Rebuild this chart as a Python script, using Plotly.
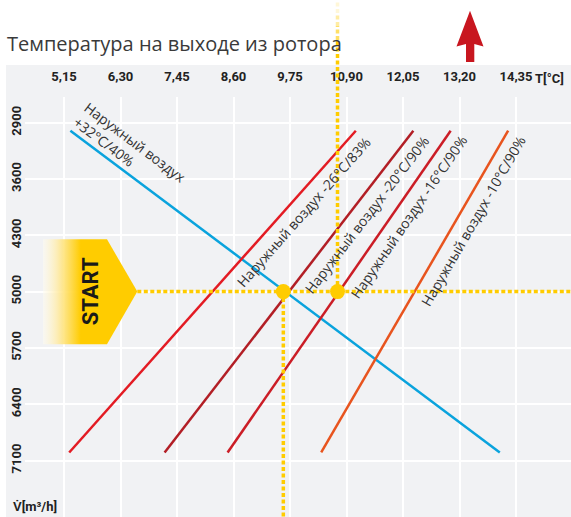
import plotly.graph_objects as go

# ---------------- data ----------------
temp_ticks = [5.15, 6.30, 7.45, 8.60, 9.75, 10.90, 12.05, 13.20, 14.35]
temp_labels = ["5,15", "6,30", "7,45", "8,60", "9,75", "10,90", "12,05", "13,20", "14,35"]
flow_ticks = [2900, 3600, 4300, 5000, 5700, 6400, 7100]
flow_labels = ["2900", "3600", "4300", "5000", "5700", "6400", "7100"]

line_flow = [3000, 7000]                      # V at line ends
t_out_plus32 = [5.28, 14.02]                  # +32°C / 40 %
t_out_minus26 = [11.09, 5.256]                # -26°C / 83 %
t_out_minus20 = [12.26, 7.198]                # -20°C / 90 %
t_out_minus16 = [13.02, 8.48]                 # -16°C / 90 %
t_out_minus10 = [14.19, 10.385]               # -10°C / 90 %

start_flow = 5000
op_points_t = [9.614, 10.717]                 # working points at 5000 m3/h

start_box_t = [4.723, 6.025, 6.642, 6.025, 4.723, 4.723]
start_box_v = [4350, 4350, 5000, 5655, 5655, 4350]

# ---------------- geometry helpers ----------------
W, H = 571, 517
L, T_M = 25, 97
PW, PH = W - L, H - T_M
XR = [4.3562, 15.4695]
YR = [7802.4, 2580.5]


def pxx(px):
    return (px - L) / PW


def pyy(py):
    return (H - py) / PH


GRAY = "#f1f2f4"
YEL = "#FFCC00"
TXT = "#333333"

fig = go.Figure()

# START arrow with gradient
fig.add_trace(go.Scatter(
    x=start_box_t, y=start_box_v, mode="lines", fill="toself",
    line=dict(width=0, color="rgba(0,0,0,0)"),
    fillgradient=dict(type="horizontal",
                      colorscale=[[0, "rgba(255,252,240,0.5)"],
                                  [0.15, "rgba(255,236,170,0.85)"],
                                  [0.4, YEL], [1, YEL]]),
    hoverinfo="skip", showlegend=False))

series = [
    (t_out_plus32, "#0AA3DD"),
    (t_out_minus26, "#E31B23"),
    (t_out_minus20, "#B21E25"),
    (t_out_minus16, "#CB1D26"),
    (t_out_minus10, "#E8541E"),
]
for tt, col in series:
    fig.add_trace(go.Scatter(x=tt, y=line_flow, mode="lines",
                             line=dict(color=col, width=2.5),
                             hoverinfo="skip", showlegend=False))

DASH = "4px,2.5px"
fig.add_trace(go.Scatter(x=[start_box_t[2], XR[1]], y=[start_flow, start_flow],
                         mode="lines", line=dict(color=YEL, width=3.5, dash=DASH),
                         hoverinfo="skip", showlegend=False))
fig.add_trace(go.Scatter(x=[op_points_t[0], op_points_t[0]], y=[start_flow, YR[0]],
                         mode="lines", line=dict(color=YEL, width=3.5, dash=DASH),
                         hoverinfo="skip", showlegend=False))
fig.add_trace(go.Scatter(x=[op_points_t[1], op_points_t[1]], y=[start_flow, YR[1]],
                         mode="lines", line=dict(color=YEL, width=3.5, dash=DASH),
                         hoverinfo="skip", showlegend=False))
fig.add_trace(go.Scatter(x=op_points_t, y=[start_flow] * len(op_points_t), mode="markers",
                         marker=dict(color=YEL, size=15, line=dict(width=0)),
                         hoverinfo="skip", showlegend=False))

shapes = []
shapes.append(dict(type="rect", xref="paper", yref="paper",
                   x0=pxx(6), x1=1, y0=0, y1=pyy(65),
                   fillcolor=GRAY, line=dict(width=0), layer="below"))
for (a, b, op) in [(97, 40, 1.0), (40, 26, 0.6), (26, 13, 0.35), (13, 0, 0.15)]:
    shapes.append(dict(type="line", xref="x", yref="paper",
                       x0=op_points_t[1], x1=op_points_t[1], y0=pyy(a), y1=pyy(b),
                       line=dict(color=YEL, width=3.5, dash=DASH), opacity=op, layer="above"))
arrow = [(470, 10.7), (483.5, 46.5), (474.3, 44), (474.3, 62), (466, 62), (466, 44), (456.5, 46.5)]
path = "M " + " L ".join(f"{pxx(x):.5f},{pyy(y):.5f}" for x, y in arrow) + " Z"
shapes.append(dict(type="path", xref="paper", yref="paper", path=path,
                   fillcolor="#C8161F", line=dict(width=0), layer="above"))

ann = []
LF = dict(family="Open Sans, sans-serif", size=14, color=TXT)
ann.append(dict(x=6.493, y=3227, xref="x", yref="y", text="Наружный воздух<br>+32°C/40%",
                textangle=37, showarrow=False, align="left", font=LF,
                xanchor="center", yanchor="middle"))
labels = [
    ("Наружный воздух -26°C/83%", 10.015, 4016, -48.6),
    ("Наружный воздух -20°C/90%", 11.297, 4048, -52.5),
    ("Наружный воздух -16°C/90%", 12.172, 4069, -55.5),
    ("Наружный воздух -10°C/90%", 13.475, 4131, -60.0),
]
for txt, x, y, ang in labels:
    ann.append(dict(x=x, y=y, xref="x", yref="y", text=txt, textangle=ang,
                    showarrow=False, font=LF, xanchor="center", yanchor="middle"))
ann.append(dict(x=5.693, y=start_flow, xref="x", yref="y", text="<b>START</b>",
                textangle=-90, showarrow=False,
                font=dict(family="Roboto, sans-serif", size=22, color="#1a1a1a")))
BF = dict(family="Roboto, sans-serif", size=13, color="#222222", weight="bold")
ann.append(dict(x=pxx(549), y=pyy(79), xref="paper", yref="paper", text="T[°C]",
                showarrow=False, font=BF, xanchor="center", yanchor="middle"))
ann.append(dict(x=pxx(11), y=pyy(506), xref="paper", yref="paper", text="V̇[m³/h]",
                showarrow=False, font=BF, xanchor="left", yanchor="middle"))

TF = dict(family="Roboto, sans-serif", size=13, color="#222222", weight="bold")
fig.update_layout(
    width=W, height=H,
    margin=dict(l=L, r=0, t=T_M, b=0, pad=0, autoexpand=False),
    paper_bgcolor="white", plot_bgcolor=GRAY,
    showlegend=False,
    title=dict(text="Температура на выходе из ротора", x=7 / W, xref="container",
               xanchor="left", y=1 - 44 / H, yref="container", yanchor="middle",
               font=dict(family="Open Sans, sans-serif", size=20, color="#3a3a3a")),
    shapes=shapes, annotations=ann,
    xaxis=dict(range=XR, side="top", tickvals=temp_ticks, ticktext=temp_labels,
               showgrid=True, gridcolor="white", gridwidth=2, zeroline=False, showline=False,
               ticks="outside", ticklen=0, tickcolor="rgba(0,0,0,0)",
               ticklabelstandoff=10, automargin=False,
               tickfont=TF, fixedrange=True),
    yaxis=dict(range=YR, tickvals=flow_ticks, ticktext=flow_labels,
               showgrid=True, gridcolor="white", gridwidth=2, zeroline=False, showline=False,
               ticks="", tickangle=-90, ticklabelstandoff=0, automargin=False,
               tickfont=TF, fixedrange=True),
)

fig.write_html("out.html", config={"displayModeBar": False},
               post_script="document.body.style.margin='0';document.body.style.overflow='hidden';")
